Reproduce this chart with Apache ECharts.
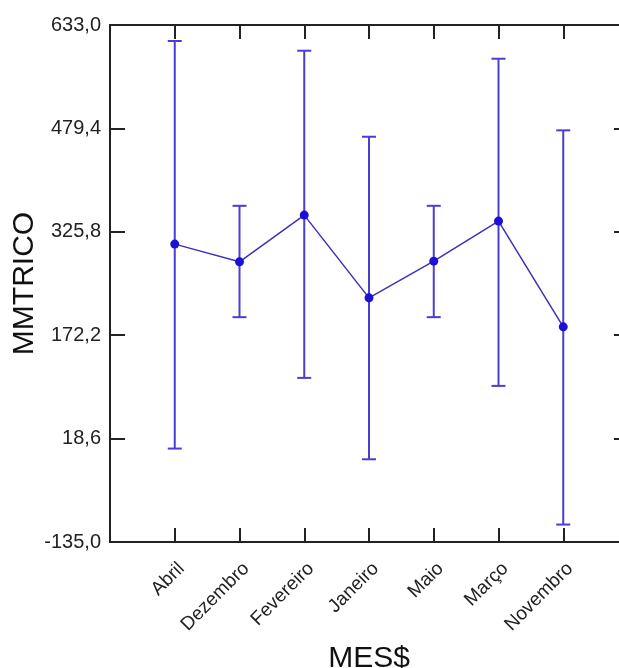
<!DOCTYPE html>
<html>
<head>
<meta charset="utf-8">
<script src="https://cdn.jsdelivr.net/npm/echarts@6/dist/echarts.min.js"></script>
<style>
html,body{margin:0;padding:0;background:#fff;}
#c{width:619px;height:668px;}
</style>
</head>
<body>
<div id="c"></div>
<script>
var categories = ['Abril', 'Dezembro', 'Fevereiro', 'Janeiro', 'Maio', 'Março', 'Novembro'];
var means = [307.5, 281.2, 350.6, 227.7, 282.2, 341.7, 184.6];
var upper = [609.2, 364.4, 594.8, 467.0, 364.4, 582.9, 476.5];
var lower = [3.8, 199.0, 108.8, -12.1, 199.0, 96.9, -109.1];
var yMin = -135.0, yMax = 633.0, yStep = 153.6;

var barColor = '#4a3ed2';
var lineColor = '#3d33b8';
var dotColor = '#1c10d6';
var axisColor = '#222';
var font = "'Liberation Sans', Arial, sans-serif";

var meanData = means.map(function (v, i) { return [i, v]; });
var errData = means.map(function (v, i) { return [i, lower[i], upper[i]]; });

function fmt(v) { return Number(v).toFixed(1).replace('.', ','); }

var chart = echarts.init(document.getElementById('c'), null, { renderer: 'canvas' });
chart.setOption({
  backgroundColor: '#fff',
  animation: false,
  grid: { left: 110, top: 25, width: 518, height: 517, containLabel: false, outerBoundsMode: 'none' },
  xAxis: [{
    type: 'value', min: -1, max: 7, interval: 1, position: 'bottom',
    name: 'MES$', nameLocation: 'middle', nameGap: 102, nameMoveOverlap: false,
    nameTextStyle: { fontFamily: font, fontSize: 30, color: '#111' },
    axisLine: { show: true, onZero: false, lineStyle: { color: axisColor, width: 2 } },
    axisTick: { show: true, inside: true, length: 14, lineStyle: { color: axisColor, width: 2 } },
    axisLabel: {
      rotate: 45, margin: 17, verticalAlign: 'top', fontFamily: font, fontSize: 19, color: '#222',
      formatter: function (v) { return categories[v] !== undefined ? categories[v] : ''; }
    },
    splitLine: { show: false }
  }, {
    type: 'value', min: -1, max: 7, interval: 1, position: 'top',
    axisLine: { show: true, onZero: false, lineStyle: { color: axisColor, width: 2 } },
    axisTick: { show: true, inside: true, length: 14, lineStyle: { color: axisColor, width: 2 } },
    axisLabel: { show: false },
    splitLine: { show: false }
  }],
  yAxis: [{
    type: 'value', min: yMin, max: yMax, interval: yStep, position: 'left',
    name: 'MMTRICO', nameLocation: 'middle', nameGap: 70, nameMoveOverlap: false,
    nameTextStyle: { fontFamily: font, fontSize: 30, color: '#111' },
    axisLine: { show: true, onZero: false, lineStyle: { color: axisColor, width: 2 } },
    axisTick: { show: true, inside: true, length: 15, lineStyle: { color: axisColor, width: 2 } },
    axisLabel: { margin: 9, fontFamily: font, fontSize: 20, color: '#222', formatter: fmt },
    splitLine: { show: false }
  }, {
    type: 'value', min: yMin, max: yMax, interval: yStep, position: 'right',
    axisLine: { show: true, onZero: false, lineStyle: { color: axisColor, width: 2 } },
    axisTick: { show: true, inside: true, length: 14, lineStyle: { color: axisColor, width: 2 } },
    axisLabel: { show: false },
    splitLine: { show: false }
  }],
  series: [{
    type: 'custom',
    xAxisIndex: 0, yAxisIndex: 0,
    data: errData,
    encode: { x: 0, y: [1, 2] },
    z: 2,
    renderItem: function (params, api) {
      var x = api.value(0);
      var top = api.coord([x, api.value(2)]);
      var bot = api.coord([x, api.value(1)]);
      var w = 7;
      var st = { stroke: barColor, lineWidth: 2 };
      return {
        type: 'group',
        children: [
          { type: 'line', shape: { x1: top[0], y1: top[1], x2: bot[0], y2: bot[1] }, style: st },
          { type: 'line', shape: { x1: top[0] - w, y1: top[1], x2: top[0] + w, y2: top[1] }, style: st },
          { type: 'line', shape: { x1: bot[0] - w, y1: bot[1], x2: bot[0] + w, y2: bot[1] }, style: st }
        ]
      };
    }
  }, {
    type: 'line',
    xAxisIndex: 0, yAxisIndex: 0,
    data: meanData,
    z: 3,
    symbol: 'circle', symbolSize: 9,
    lineStyle: { color: lineColor, width: 1.5 },
    itemStyle: { color: dotColor }
  }]
});
</script>
</body>
</html>
